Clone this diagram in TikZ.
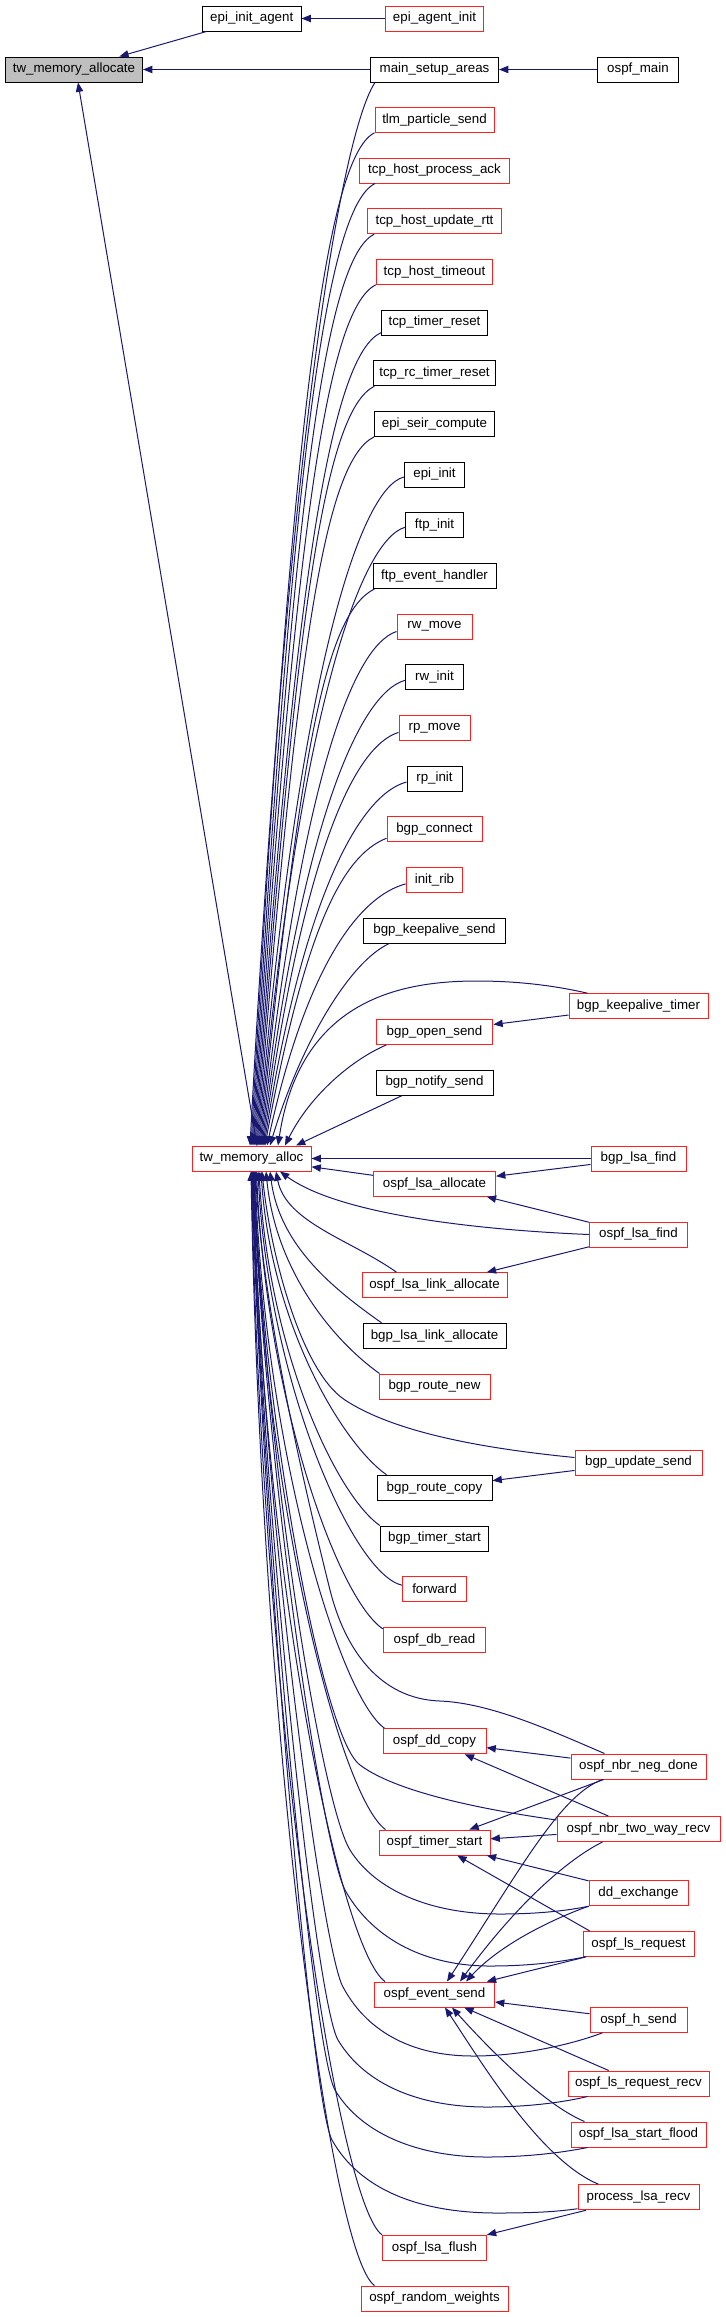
\documentclass[tikz,border=0pt]{standalone}
\usepackage{fontspec}
\setmainfont{Liberation Sans}
\usetikzlibrary{arrows.meta,calc}
\definecolor{navy}{HTML}{191970}
\definecolor{rootgray}{HTML}{BFBFBF}
\definecolor{boxred}{HTML}{FF2020}
\newcommand\fsz{\fontsize{10}{12}\selectfont}
\begin{document}
\begin{tikzpicture}[x=0.75pt,y=-0.75pt,
  nb/.style={draw, line width=0.75pt, minimum height=18.75pt, inner sep=0pt, font=\fsz, fill=white},
  rb/.style={nb, draw=boxred},
  kb/.style={nb, draw=black},
  bw/.style={minimum width=#1*0.75pt},
  edge/.style={draw=navy, line width=0.75pt, -{Triangle[length=7pt,width=5.5pt]}}]
\useasboundingbox (0,0) rectangle (725,2317);

% ---------- nodes ----------
\node[kb,bw=137,fill=rootgray] (A) at (74,69.5) {tw\_memory\_allocate};
\node[kb,bw=98.5] (eia) at (251.75,18.5) {epi\_init\_agent};
\node[rb,bw=98.6] (eai) at (434.5,18.5) {epi\_agent\_init};
\node[kb,bw=128] (msa) at (434.5,69.5) {main\_setup\_areas};
\node[kb,bw=81.7] (om) at (638,69.5) {ospf\_main};
\node[rb,bw=119] (tw) at (251.5,1158.5) {tw\_memory\_alloc};

\node[rb,bw=119]   (tlm)  at (434.5,119.8)  {tlm\_particle\_send};
\node[rb,bw=150]   (thpa) at (434.5,170.5)  {tcp\_host\_process\_ack};
\node[rb,bw=133.6] (thur) at (434.5,221.2)  {tcp\_host\_update\_rtt};
\node[rb,bw=116.4] (tht)  at (434.5,271.8)  {tcp\_host\_timeout};
\node[kb,bw=105.3] (ttr)  at (434.5,322.5)  {tcp\_timer\_reset};
\node[kb,bw=121.3] (trtr) at (434.5,373.2)  {tcp\_rc\_timer\_reset};
\node[kb,bw=120]   (esc)  at (434.5,423.9)  {epi\_seir\_compute};
\node[kb,bw=60.4]  (ei)   at (434.5,474.5)  {epi\_init};
\node[kb,bw=57.3]  (fi)   at (434.5,525.2)  {ftp\_init};
\node[kb,bw=123]   (feh)  at (434.5,575.9)  {ftp\_event\_handler};
\node[rb,bw=75]    (rwm)  at (434.5,626.5)  {rw\_move};
\node[kb,bw=57.3]  (rwi)  at (434.5,677.2)  {rw\_init};
\node[rb,bw=71]    (rpm)  at (434.5,727.9)  {rp\_move};
\node[kb,bw=55]    (rpi)  at (434.5,778.5)  {rp\_init};
\node[rb,bw=95]    (bc)   at (434.5,829.2)  {bgp\_connect};
\node[rb,bw=56.7]  (ir)   at (434.5,879.9)  {init\_rib};
\node[kb,bw=141.3] (bks)  at (434.5,930.5)  {bgp\_keepalive\_send};
\node[rb,bw=116.7] (bos)  at (434.5,1031.9) {bgp\_open\_send};
\node[kb,bw=117]   (bns)  at (434.5,1082.5) {bgp\_notify\_send};
\node[rb,bw=122]   (ola)  at (434.5,1183.8) {ospf\_lsa\_allocate};
\node[rb,bw=145]   (olla) at (434.5,1285.2) {ospf\_lsa\_link\_allocate};
\node[kb,bw=143]   (blla) at (434.5,1335.8) {bgp\_lsa\_link\_allocate};
\node[rb,bw=111]   (brn)  at (434.5,1386.5) {bgp\_route\_new};
\node[kb,bw=115]   (brc)  at (434.5,1487.8) {bgp\_route\_copy};
\node[kb,bw=108.4] (bts)  at (434.5,1538.5) {bgp\_timer\_start};
\node[rb,bw=64.4]  (fwd)  at (434.5,1589.2) {forward};
\node[rb,bw=102.4] (odr)  at (434.5,1639.8) {ospf\_db\_read};
\node[rb,bw=103]   (odc)  at (434.5,1741.2) {ospf\_dd\_copy};
\node[rb,bw=111]   (ots)  at (434.5,1842.5) {ospf\_timer\_start};
\node[rb,bw=120]   (oes)  at (434.5,1994.5) {ospf\_event\_send};
\node[rb,bw=104]   (olf)  at (434.5,2247.8) {ospf\_lsa\_flush};
\node[rb,bw=147]   (orw)  at (434.5,2298.5) {ospf\_random\_weights};

\node[rb,bw=139] (bkt)  at (638.5,1006.2) {bgp\_keepalive\_timer};
\node[rb,bw=95]  (blf)  at (638.5,1158.5) {bgp\_lsa\_find};
\node[rb,bw=98]  (olfd) at (638.5,1234.5) {ospf\_lsa\_find};
\node[rb,bw=127] (bus)  at (638.5,1462.5) {bgp\_update\_send};
\node[rb,bw=135] (onnd) at (638.5,1766.5) {ospf\_nbr\_neg\_done};
\node[rb,bw=163] (ontw) at (638.5,1829)   {ospf\_nbr\_two\_way\_recv};
\node[rb,bw=99]  (dde)  at (638.5,1893.2) {dd\_exchange};
\node[rb,bw=111] (olr)  at (638.5,1943.8) {ospf\_ls\_request};
\node[rb,bw=97]  (ohs)  at (638.5,2019.8) {ospf\_h\_send};
\node[rb,bw=141] (olrr) at (638.5,2083.5) {ospf\_ls\_request\_recv};
\node[rb,bw=135] (olsf) at (638.5,2134.5) {ospf\_lsa\_start\_flood};
\node[rb,bw=121] (plr)  at (638.5,2197.2) {process\_lsa\_recv};

% ---------- top edges ----------
\draw[edge] (eai) -- (eia);
\draw[edge] (eia) -- (A);
\draw[edge] (msa) -- (A);
\draw[edge] (om) -- (msa);
\draw[edge] ($(tw.north)+(5.5,0)$) -- ($(A.south)+(4,0)$);

% ---------- callers above tw_memory_alloc ----------
\draw[edge] ($(msa.south west)+(5,0)$) .. controls +(-30,45) and +(40,-745) .. ($(tw.north)+(-1.5,0)$);
\draw[edge] (tlm.south west) .. controls +(-50,25) and +(40,-709) .. ($(tw.north)+(-0.5,0)$);
\draw[edge] ($(thpa.south west)+(16,0)$) .. controls +(-50,25) and +(40,-674) .. ($(tw.north)+(0.5,0)$);
\draw[edge] ($(thur.south west)+(7,0)$) .. controls +(-50,25) and +(40,-638) .. ($(tw.north)+(1.5,0)$);
\draw[edge] (tht.south west) .. controls +(-50,25) and +(40,-603) .. ($(tw.north)+(2.5,0)$);
\draw[edge] ($(ttr.south west)+(0,-3)$) .. controls +(-50,22) and +(40,-570) .. ($(tw.north)+(3.5,0)$);
\draw[edge] ($(trtr.south west)+(1,0)$) .. controls +(-50,25) and +(40,-532) .. ($(tw.north)+(4.5,0)$);
\draw[edge] (esc.south west) .. controls +(-50,25) and +(40,-497) .. ($(tw.north)+(5.5,0)$);
\draw[edge] ($(ei.west)+(0,2.5)$) .. controls +(-45,12) and +(40,-468) .. ($(tw.north)+(6.5,0)$);
\draw[edge] ($(fi.west)+(0,2)$) .. controls +(-45,12) and +(40,-433) .. ($(tw.north)+(7.5,0)$);
\draw[edge] ($(feh.south west)+(2,0)$) .. controls +(-50,25) and +(40,-391) .. ($(tw.north)+(8.5,0)$);
\draw[edge] ($(rwm.west)+(0,5)$) .. controls +(-45,15) and +(40,-360) .. ($(tw.north)+(9.5,0)$);
\draw[edge] ($(rwi.west)+(0,3)$) .. controls +(-45,12) and +(40,-326) .. ($(tw.north)+(10.5,0)$);
\draw[edge] ($(rpm.west)+(0,4.5)$) .. controls +(-45,14) and +(40,-290) .. ($(tw.north)+(11.5,0)$);
\draw[edge] ($(rpi.west)+(0,3.5)$) .. controls +(-45,12) and +(40,-255) .. ($(tw.north)+(12.5,0)$);
\draw[edge] ($(bc.west)+(0,9)$) .. controls +(-45,18) and +(40,-216) .. ($(tw.north)+(13.5,0)$);
\draw[edge] ($(ir.west)+(0,4)$) .. controls +(-45,12) and +(40,-183) .. ($(tw.north)+(15.5,0)$);
\draw[edge] ($(bks.south west)+(26,0)$) .. controls +(-40,18) and +(30,-100) .. ($(tw.north)+(18.5,0)$);
\draw[edge] ($(bkt.north west)+(19,0)$) .. controls +(-43,-10) and (505,981) .. (477,981)
   .. controls (400,981) and (300,1000) .. ($(tw.north)+(26.5,0)$);
\draw[edge] ($(bos.south west)+(10.7,0)$) .. controls +(-35,15) and +(25,-50) .. ($(tw.north)+(33.5,0)$);
\draw[edge] ($(bns.south west)+(26.7,0)$) -- ($(tw.north)+(44.5,0)$);
\draw[edge] (bkt) -- (bos);

% ---------- callers below tw_memory_alloc ----------
\draw[edge] (blf) -- (tw);
\draw[edge] (blf) -- (ola);
\draw[edge] (ola) -- (tw);
\draw[edge] (olfd) -- (ola);
\draw[edge] (olfd) -- (olla);
\draw[edge] (olfd.west) .. controls (480,1230) and (340,1215) .. ($(tw.south)+(28.5,0)$);
\draw[edge] ($(olla.north west)+(35,0)$) .. controls +(-45,-32) and +(10,51) .. ($(tw.south)+(24.5,0)$);
\draw[edge] ($(blla.north west)+(19,0)$) .. controls +(-45,-32) and +(10,76) .. ($(tw.south)+(18.5,0)$);
\draw[edge] ($(brn.north west)+(1,0)$) .. controls +(-45,-32) and +(10,101) .. ($(tw.south)+(14.5,0)$);
\draw[edge] ($(bus.west)+(0,-5)$) .. controls (500,1450) and (400,1436) .. (345,1400)
   .. controls (300,1370.5) and (270,1250) .. ($(tw.south)+(10.5,0)$);
\draw[edge] (bus) -- (brc);
\draw[edge] ($(brc.north west)+(10,0)$) .. controls +(-45,-32) and +(10,152) .. ($(tw.south)+(9.5,0)$);
\draw[edge] (bts.north west) .. controls +(-45,-32) and +(10,178) .. ($(tw.south)+(7.5,0)$);
\draw[edge] ($(fwd.west)+(0,-4)$) .. controls +(-50,-12) and +(10,207) .. ($(tw.south)+(6.5,0)$);
\draw[edge] ($(odr.north west)+(0,2)$) .. controls +(-45,-30) and +(10,229) .. ($(tw.south)+(5,0)$);
\draw[edge] ($(onnd.north west)+(34,0)$) .. controls (550,1730) and (490,1703) .. (440,1701)
   .. controls (380,1699) and (345,1650) .. (330,1590)
   .. controls (300,1470) and (262,1300) .. ($(tw.south)+(4,0)$);
\draw[edge] ($(odc.north west)+(2,0)$) .. controls +(-45,-32) and +(10,279) .. ($(tw.south)+(3.5,0)$);
\draw[edge] ($(ontw.west)+(0,-9)$) .. controls (500,1812) and (400,1795) .. (360,1765)
   .. controls (320,1735) and (262,1400) .. ($(tw.south)+(2.5,0)$);
\draw[edge] ($(ots.north west)+(7,0)$) .. controls +(-45,-32) and +(10,330) .. ($(tw.south)+(2.5,0)$);
\draw[edge] ($(dde.south west)+(0.5,0)$) .. controls (560,1912) and (530,1914) .. (500,1914)
   .. controls (430,1914) and (375,1890) .. (350,1850)
   .. controls (320,1800) and (265,1450) .. ($(tw.south)+(2.5,0)$);
\draw[edge] ($(olr.south west)+(3,0)$) .. controls (560,1962) and (530,1966) .. (490,1966)
   .. controls (420,1966) and (370,1935) .. (345,1890)
   .. controls (320,1840) and (264,1450) .. ($(tw.south)+(1.5,0)$);
\draw[edge] ($(oes.north west)+(11,0)$) .. controls +(-45,-32) and +(10,405) .. ($(tw.south)+(1.5,0)$);
\draw[edge] ($(ohs.south west)+(13,0)$) .. controls (570,2045) and (520,2056) .. (473,2056)
   .. controls (410,2056) and (365,2030) .. (342,1985)
   .. controls (320,1935) and (262,1500) .. ($(tw.south)+(1.5,0)$);
\draw[edge] ($(olrr.south west)+(20,0)$) .. controls (560,2103) and (525,2107) .. (487,2107)
   .. controls (420,2107) and (365,2085) .. (338,2040)
   .. controls (315,2000) and (262,1500) .. ($(tw.south)+(0.5,0)$);
\draw[edge] ($(olsf.south west)+(17,0)$) .. controls (560,2153) and (525,2157) .. (487,2157)
   .. controls (420,2157) and (362,2135) .. (335,2090)
   .. controls (312,2050) and (261,1500) .. ($(tw.south)+(0.5,0)$);
\draw[edge] ($(plr.west)+(0,11.5)$) .. controls (555,2212) and (530,2213) .. (497,2213)
   .. controls (420,2213) and (360,2190) .. (332,2140)
   .. controls (310,2100) and (260,1500) .. ($(tw.south)+(0.5,0)$);
\draw[edge] (olf.north west) .. controls +(-45,-32) and +(10,532) .. ($(tw.south)+(0,0)$);
\draw[edge] ($(orw.north west)+(14,0)$) .. controls +(-45,-32) and +(10,557) .. ($(tw.south)+(-0.5,0)$);

% ---------- ospf cluster ----------
\draw[edge] (onnd) -- (odc);
\draw[edge] (ontw) -- (odc);
\draw[edge] (onnd) -- (ots);
\draw[edge] (ontw) -- (ots);
\draw[edge] (dde) -- (ots);
\draw[edge] ($(olr.north west)+(7,0)$) -- (ots);
\draw[edge] ($(onnd.south west)+(32,0)$) .. controls (560,1795) and (520,1870) .. ($(oes.north)+(12.5,0)$);
\draw[edge] ($(ontw.south west)+(46,0)$) .. controls (570,1858) and (520,1900) .. ($(oes.north)+(25.5,0)$);
\draw[edge] (dde.south west) .. controls (550,1920) and (500,1945) .. ($(oes.north)+(31.5,0)$);
\draw[edge] (olr) -- (oes);
\draw[edge] (ohs) -- (oes);
\draw[edge] (olrr) -- (oes);
\draw[edge] ($(olsf.north west)+(14,0)$) .. controls (545,2105) and (490,2050) .. ($(oes.south)+(17.5,0)$);
\draw[edge] ($(plr.north west)+(21,0)$) .. controls (540,2160) and (480,2060) .. ($(oes.south)+(10.5,0)$);
\draw[edge] (plr) -- (olf);
\end{tikzpicture}
\end{document}
